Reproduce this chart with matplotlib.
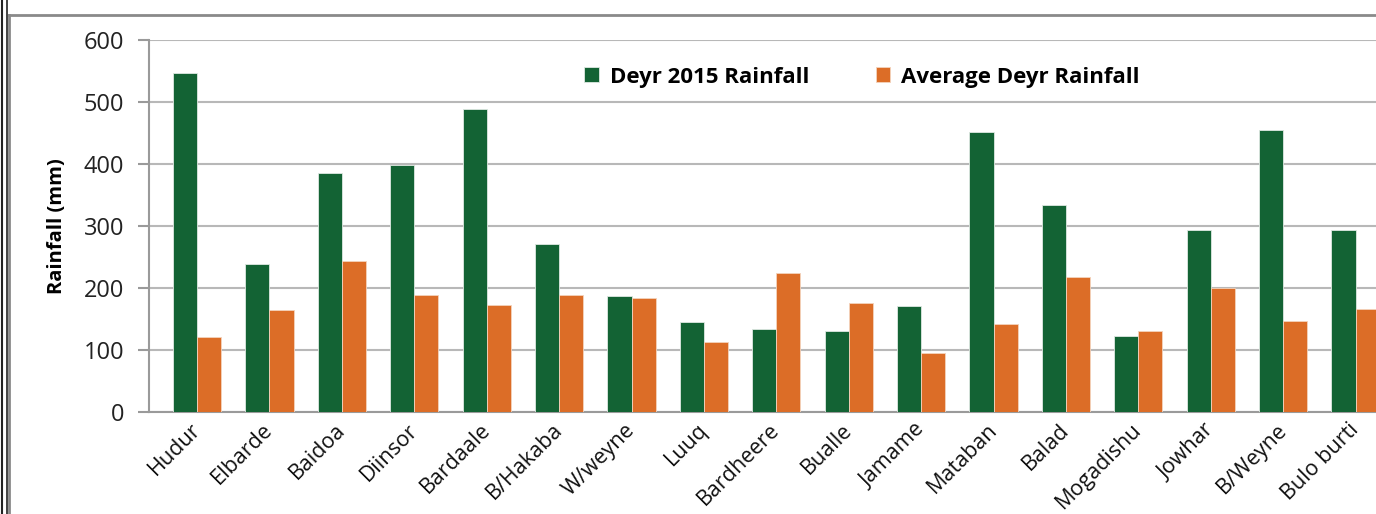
import matplotlib
matplotlib.use("Agg")
import matplotlib.pyplot as plt
from matplotlib.lines import Line2D
import numpy as np

plt.rcParams['font.family'] = ['Open Sans', 'DejaVu Sans']

districts = ["Hudur", "Elbarde", "Baidoa", "Diinsor", "Bardaale", "B/Hakaba", "W/weyne",
             "Luuq", "Bardheere", "Bualle", "Jamame", "Mataban", "Balad", "Mogadishu",
             "Jowhar", "B/Weyne", "Bulo burti"]
deyr_2015 = [546, 238, 386, 399, 488, 271, 186, 144, 133, 131, 170, 452, 334, 123, 293, 454, 293]
deyr_avg = [120, 164, 244, 189, 173, 189, 184, 112, 224, 175, 94, 142, 218, 131, 200, 146, 166]
yticks = [0, 100, 200, 300, 400, 500, 600]

W, H = 1376, 514
fig = plt.figure(figsize=(W / 100, H / 100), dpi=100)
ax = fig.add_axes([149.3 / W, (H - 411.7) / H, 1 - 149.3 / W, (411.7 - 40) / H])

green = "#136334"
orange = "#DC6D27"
x = np.arange(len(districts))
bw = 1 / 3
ax.bar(x - bw / 2, deyr_2015, width=bw, color=green, edgecolor="#dfe9e2", linewidth=0.6,
       label="Deyr 2015 Rainfall", zorder=3)
ax.bar(x + bw / 2, deyr_avg, width=bw, color=orange, edgecolor="#f3d3bd", linewidth=0.6,
       label="Average Deyr Rainfall", zorder=3)

ax.set_xlim(-0.66, (W - 197) / 72.41)
ax.set_ylim(0, 600)
ax.set_yticks(yticks)
ax.set_yticklabels([str(v) for v in yticks], fontsize=17, color="#222222")
ax.yaxis.grid(True, color="#b8b8b8", linewidth=1.5, zorder=0)
ax.set_axisbelow(True)
for s in ["top", "right"]:
    ax.spines[s].set_visible(False)
ax.spines["left"].set_color("#9a9a9a")
ax.spines["left"].set_linewidth(1.5)
ax.spines["bottom"].set_color("#9a9a9a")
ax.spines["bottom"].set_linewidth(1.5)
ax.tick_params(axis="y", length=8, width=1.5, color="#9a9a9a", pad=10)
ax.tick_params(axis="x", length=0, pad=2)
ax.set_xticks(x)
ax.set_xticklabels(districts, rotation=45, ha="right", va="top", rotation_mode="anchor",
                   fontsize=15.5, color="#111111")
for lbl in ax.get_xticklabels():
    lbl.set_transform(lbl.get_transform() + matplotlib.transforms.ScaledTranslation(-0.07, -0.05, fig.dpi_scale_trans))

ax.set_ylabel("Rainfall (mm)", fontsize=14.5, fontweight="bold", labelpad=12)

leg = ax.legend(loc="center", bbox_to_anchor=(862 / W, 1 - 77 / H), bbox_transform=fig.transFigure,
                ncol=2, frameon=False, prop={"weight": "bold", "size": 16},
                handlelength=0.65, handleheight=0.65, handletextpad=0.5, columnspacing=3.0)

# chart frame and outer border
fig.add_artist(Line2D([8.5 / W, 8.5 / W], [0, 1 - 15 / H], transform=fig.transFigure, color="#8a8a8a", lw=2))
fig.add_artist(Line2D([8.5 / W, 1], [1 - 15 / H, 1 - 15 / H], transform=fig.transFigure, color="#8a8a8a", lw=2))
fig.add_artist(Line2D([1.5 / W, 1.5 / W], [0, 1], transform=fig.transFigure, color="#222222", lw=1.5))
fig.add_artist(Line2D([6.5 / W, 6.5 / W], [0, 1], transform=fig.transFigure, color="#222222", lw=1.2))

fig.savefig("out.png", dpi=100)
